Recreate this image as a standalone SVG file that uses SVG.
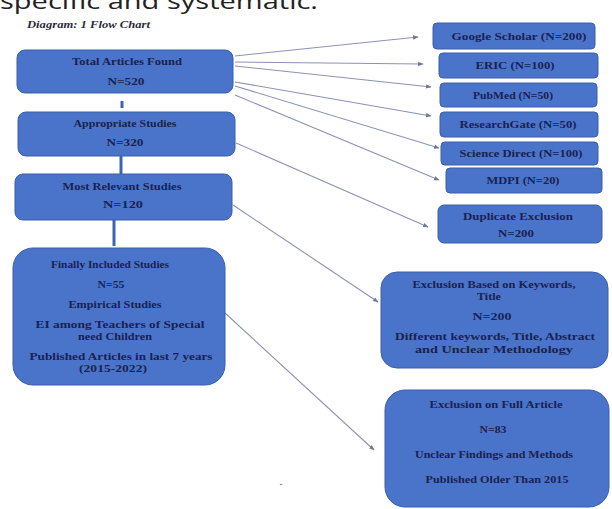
<svg xmlns="http://www.w3.org/2000/svg" width="612" height="509" viewBox="0 0 612 509">
<style>
.box{fill:#4a74c9;stroke:#3a5ea8;stroke-width:1}
.t{font-family:"Liberation Serif","Times New Roman",serif;font-weight:bold;font-size:10.5px;fill:#1b2150;text-anchor:middle}
.c{stroke:#8c92b4;stroke-width:1.1;fill:none;marker-end:url(#ah)}
.v{stroke:#3b64b4;stroke-width:3;fill:none}
</style>
<defs>
<marker id="ah" viewBox="0 0 10 10" refX="9" refY="5" markerWidth="5" markerHeight="5" orient="auto" markerUnits="strokeWidth">
<path d="M0,1 L10,5 L0,9 z" fill="#6f7696"/>
</marker>
</defs>
<rect width="612" height="509" fill="#ffffff"/>
<text x="0" y="9" font-family="'Open Sans','Noto Sans',sans-serif" font-size="22" fill="#222" textLength="318" lengthAdjust="spacingAndGlyphs">specific and systematic.</text>
<text x="27" y="28" font-family="'Liberation Serif',serif" font-weight="bold" font-style="italic" font-size="10" fill="#2a2a3a" textLength="123" lengthAdjust="spacingAndGlyphs">Diagram: 1 Flow Chart</text>

<g id="connectors">
<line class="v" x1="122" y1="101" x2="122" y2="108"/>
<line class="v" x1="121" y1="156" x2="121" y2="174"/>
<line class="v" x1="114" y1="220" x2="114" y2="246"/>
<line class="c" x1="235" y1="56" x2="418" y2="37"/>
<line class="c" x1="235" y1="62" x2="423" y2="64"/>
<line class="c" x1="235" y1="66" x2="431" y2="87"/>
<line class="c" x1="235" y1="82" x2="431" y2="116"/>
<line class="c" x1="235" y1="86" x2="439" y2="148"/>
<line class="c" x1="235" y1="95" x2="439" y2="180"/>
<line class="c" x1="236" y1="143" x2="428" y2="227"/>
<line class="c" x1="233" y1="205" x2="378" y2="302"/>
<line class="c" x1="225" y1="313" x2="374" y2="450"/>
</g>

<g id="total">
<rect class="box" x="17" y="50" width="216" height="43" rx="8"/>
<text class="t" x="127" y="65" textLength="110" lengthAdjust="spacingAndGlyphs">Total Articles Found</text>
<text class="t" x="126" y="85" textLength="37" lengthAdjust="spacingAndGlyphs">N=520</text>
</g>
<g id="appropriate">
<rect class="box" x="18" y="112" width="217" height="44" rx="8"/>
<text class="t" x="125" y="127" textLength="103" lengthAdjust="spacingAndGlyphs">Appropriate Studies</text>
<text class="t" x="125" y="146" textLength="37" lengthAdjust="spacingAndGlyphs">N=320</text>
</g>
<g id="relevant">
<rect class="box" x="15" y="174" width="217" height="46" rx="8"/>
<text class="t" x="122" y="190" textLength="119" lengthAdjust="spacingAndGlyphs">Most Relevant Studies</text>
<text class="t" x="123" y="208" textLength="40" lengthAdjust="spacingAndGlyphs">N=120</text>
</g>
<g id="finally">
<rect class="box" x="13" y="248" width="212" height="137" rx="20"/>
<text class="t" x="110" y="268" textLength="118" lengthAdjust="spacingAndGlyphs">Finally Included Studies</text>
<text class="t" x="111" y="288" textLength="27" lengthAdjust="spacingAndGlyphs">N=55</text>
<text class="t" x="115" y="308" textLength="93" lengthAdjust="spacingAndGlyphs">Empirical Studies</text>
<text class="t" x="120" y="328" textLength="169" lengthAdjust="spacingAndGlyphs">EI among Teachers of Special</text>
<text class="t" x="115" y="340" textLength="74" lengthAdjust="spacingAndGlyphs">need Children</text>
<text class="t" x="121" y="360" textLength="183" lengthAdjust="spacingAndGlyphs">Published Articles in last 7 years</text>
<text class="t" x="113" y="372" textLength="68" lengthAdjust="spacingAndGlyphs">(2015-2022)</text>
</g>

<g id="google">
<rect class="box" x="433" y="23" width="162" height="26" rx="4"/>
<text class="t" x="519" y="40" textLength="135" lengthAdjust="spacingAndGlyphs">Google Scholar (N=200)</text>
</g>
<g id="eric">
<rect class="box" x="439" y="53" width="159" height="25" rx="4"/>
<text class="t" x="515" y="69" textLength="79" lengthAdjust="spacingAndGlyphs">ERIC (N=100)</text>
</g>
<g id="pubmed">
<rect class="box" x="440" y="83" width="157" height="24" rx="4"/>
<text class="t" x="513" y="99" textLength="80" lengthAdjust="spacingAndGlyphs">PubMed (N=50)</text>
</g>
<g id="researchgate">
<rect class="box" x="440" y="112" width="158" height="25" rx="4"/>
<text class="t" x="518" y="128" textLength="117" lengthAdjust="spacingAndGlyphs">ResearchGate (N=50)</text>
</g>
<g id="sciencedirect">
<rect class="box" x="441" y="142" width="157" height="23" rx="4"/>
<text class="t" x="521" y="157" textLength="123" lengthAdjust="spacingAndGlyphs">Science Direct (N=100)</text>
</g>
<g id="mdpi">
<rect class="box" x="446" y="168" width="156" height="25" rx="4"/>
<text class="t" x="523" y="184" textLength="73" lengthAdjust="spacingAndGlyphs">MDPI (N=20)</text>
</g>
<g id="duplicate">
<rect class="box" x="438" y="205" width="164" height="38" rx="6"/>
<text class="t" x="518" y="220" textLength="110" lengthAdjust="spacingAndGlyphs">Duplicate Exclusion</text>
<text class="t" x="516" y="237" textLength="36" lengthAdjust="spacingAndGlyphs">N=200</text>
</g>
<g id="keywords">
<rect class="box" x="381" y="272" width="227" height="96" rx="16"/>
<text class="t" x="494" y="288" textLength="163" lengthAdjust="spacingAndGlyphs">Exclusion Based on Keywords,</text>
<text class="t" x="489" y="300" textLength="24" lengthAdjust="spacingAndGlyphs">Title</text>
<text class="t" x="492" y="320" textLength="39" lengthAdjust="spacingAndGlyphs">N=200</text>
<text class="t" x="495" y="340" textLength="200" lengthAdjust="spacingAndGlyphs">Different keywords, Title, Abstract</text>
<text class="t" x="494" y="353" textLength="158" lengthAdjust="spacingAndGlyphs">and Unclear Methodology</text>
</g>
<g id="fullarticle">
<rect class="box" x="385" y="390" width="224" height="117" rx="20"/>
<text class="t" x="496" y="408" textLength="133" lengthAdjust="spacingAndGlyphs">Exclusion on Full Article</text>
<text class="t" x="493" y="433" textLength="27" lengthAdjust="spacingAndGlyphs">N=83</text>
<text class="t" x="494" y="458" textLength="158" lengthAdjust="spacingAndGlyphs">Unclear Findings and Methods</text>
<text class="t" x="497" y="483" textLength="143" lengthAdjust="spacingAndGlyphs">Published Older Than 2015</text>
</g>
<text x="281" y="487" font-family="'Liberation Sans',sans-serif" font-size="9" fill="#555" text-anchor="middle">-</text>
</svg>
